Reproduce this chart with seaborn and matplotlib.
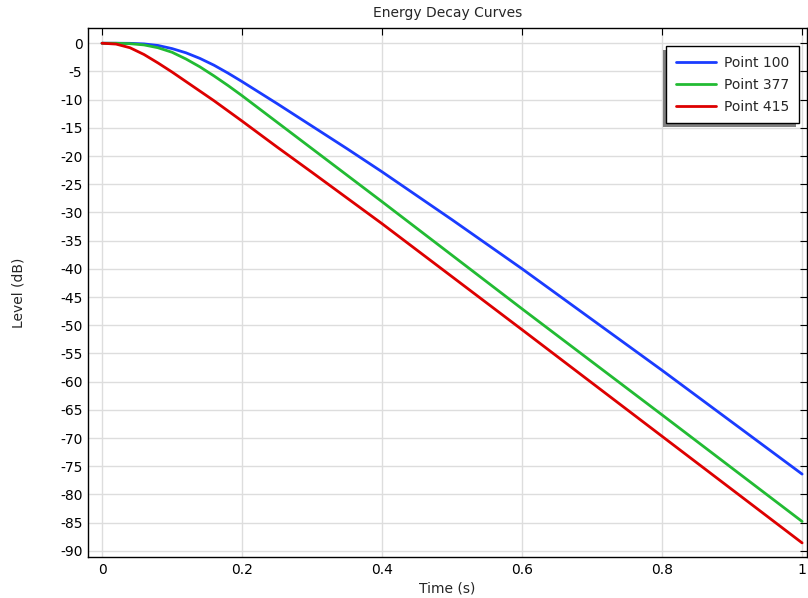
import pandas as pd
import numpy as np
import matplotlib
matplotlib.use("Agg")
import matplotlib.pyplot as plt
import matplotlib.patches as mpatches
from matplotlib.transforms import IdentityTransform
import seaborn as sns

# values
time_s = [0, 0.02, 0.04, 0.06, 0.08, 0.1, 0.12, 0.14, 0.16, 0.18, 0.2,
          0.25, 0.3, 0.35, 0.4, 0.5, 0.6, 0.7, 0.8, 0.9, 1.0]
point_100 = [0, 0, -0.02, -0.12, -0.4, -0.95, -1.7, -2.7, -3.9, -5.3, -6.8,
             -10.7, -14.7, -18.7, -22.8, -31.3, -40.0, -49.0, -58.0, -67.2, -76.4]
point_377 = [0, -0.01, -0.08, -0.3, -0.8, -1.6, -2.8, -4.2, -5.8, -7.5, -9.3,
             -14.0, -18.7, -23.4, -28.1, -37.6, -47.1, -56.5, -65.9, -75.35, -84.8]
point_415 = [0, -0.15, -0.8, -2.0, -3.5, -5.1, -6.8, -8.5, -10.2, -12.0, -13.8,
             -18.4, -22.9, -27.45, -32.0, -41.4, -50.8, -60.25, -69.7, -79.15, -88.6]
series_names = ["Point 100", "Point 377", "Point 415"]
series_colors = ["#1a3cff", "#22bb33", "#dd0000"]

df = pd.DataFrame({"Time": time_s * 3,
                   "Level": point_100 + point_377 + point_415,
                   "Series": np.repeat(series_names, len(time_s))})

sns.set_style("white")
plt.rcParams["font.family"] = ["DejaVu Sans"]
plt.rcParams["axes.unicode_minus"] = False

fig = plt.figure(figsize=(8.08, 5.98), dpi=100)
ax = fig.add_axes([88/808, 1-557/598, (807-88)/808, (557-28)/598])

sns.lineplot(data=df, x="Time", y="Level", hue="Series",
             palette=series_colors, linewidth=2, ax=ax)

ax.set_xlim(-0.02, 1.007)
ax.set_ylim(-91.1, 2.7)
ax.set_xticks([0, 0.2, 0.4, 0.6, 0.8, 1.0])
ax.set_xticklabels(["0", "0.2", "0.4", "0.6", "0.8", "1"])
ax.set_yticks(np.arange(0, -91, -5))
ax.set_yticklabels([str(v) for v in range(0, -91, -5)])
ax.grid(True, color="#dddddd", linewidth=1)
ax.tick_params(direction="in", top=True, right=True, length=5,
               labelsize=10, colors="black", pad=4)
for s in ax.spines.values():
    s.set_color("black")
    s.set_linewidth(1)

ax.set_title("Energy Decay Curves", fontsize=10, pad=8)
ax.set_xlabel("Time (s)", fontsize=10, labelpad=3.5)
ax.set_ylabel("Level (dB)", fontsize=10, labelpad=25)

leg = ax.legend(loc="upper right", bbox_to_anchor=(799/808, 1-46/598),
                bbox_transform=fig.transFigure, borderaxespad=0,
                fontsize=10, handlelength=2.9, labelspacing=0.57,
                borderpad=0.7, handletextpad=0.55,
                fancybox=False, framealpha=1, edgecolor="black")
leg.get_frame().set_linewidth(1)
leg.set_zorder(6)

# drop shadow of the legend box, offset down and to the left
fig.canvas.draw()
bb = leg.get_window_extent()
shadow = mpatches.Rectangle((bb.x0 - 3.5, bb.y0 - 4), bb.width, bb.height,
                            facecolor="#808080", edgecolor="none")
shadow.set_transform(IdentityTransform())
shadow.set_zorder(5)
shadow.set_clip_on(False)
ax.add_artist(shadow)

fig.savefig("out.png", dpi=100)
